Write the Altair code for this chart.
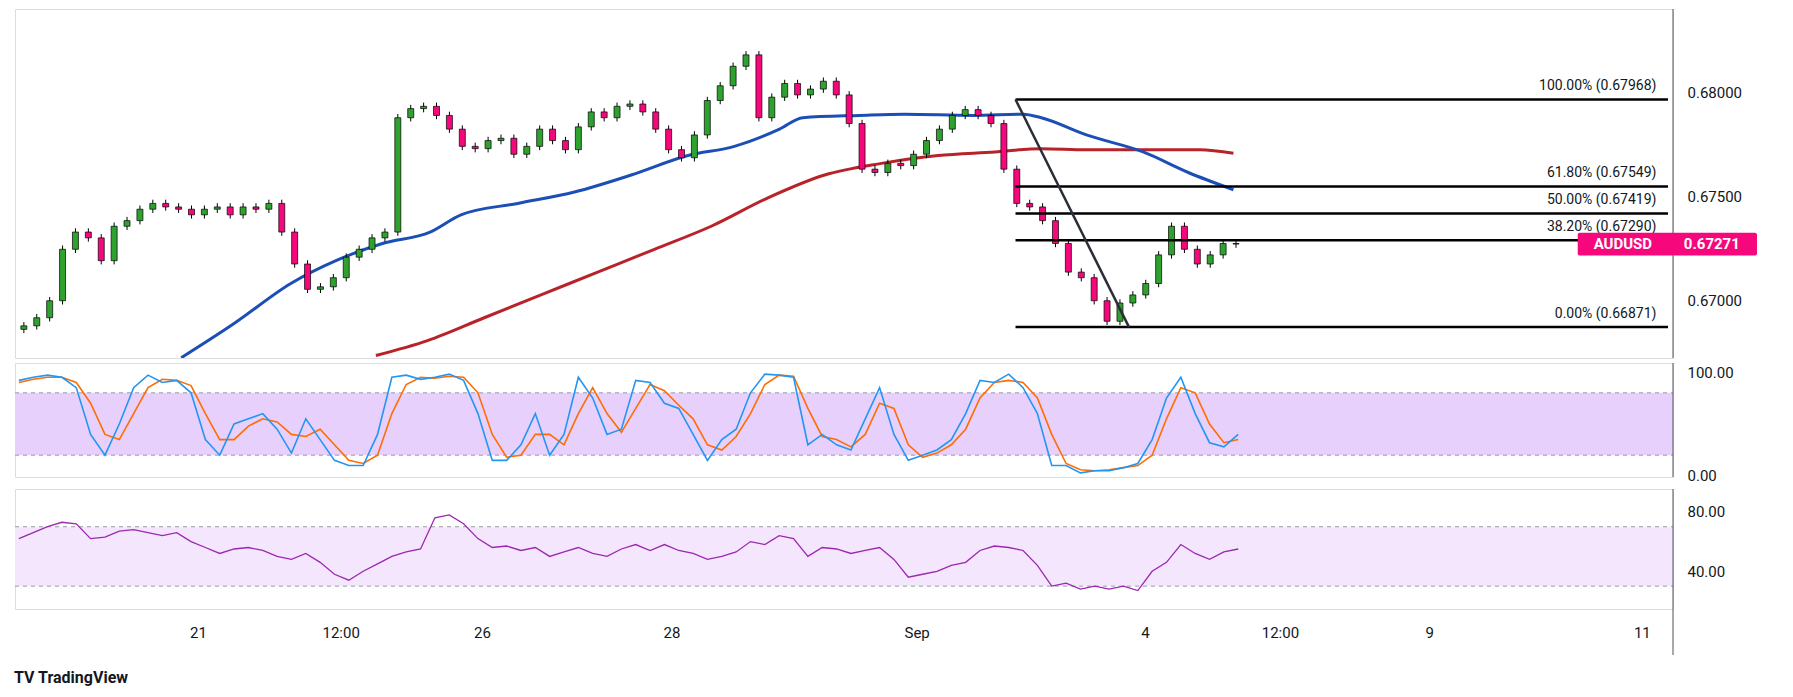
import altair as alt
import pandas as pd

closes = [.66877,.66916,.66998,.67246,.67329,.67301,.67191,.67357,.67384,.67439,
          .67467,.67450,.67439,.67412,.67439,.67450,.67412,.67450,.67439,.67467,
          .67329,.67175,.67053,.67065,.67109,.67208,.67246,.67301,.67329,.67880,
          .67924,.67935,.67891,.67825,.67742,.67731,.67770,.67781,.67704,.67742,
          .67825,.67770,.67726,.67836,.67908,.67880,.67935,.67946,.67908,.67825,
          .67726,.67687,.67797,.67963,.68034,.68128,.68183,.67880,.67979,.68045,
          .67990,.68018,.68056,.67990,.67852,.67632,.67616,.67660,.67649,.67704,
          .67770,.67825,.67891,.67919,.67891,.67852,.67632,.67467,.67450,.67384,
          .67274,.67136,.67109,.66998,.66899,.66987,.67026,.67081,.67219,.67357,
          .67246,.67175,.67219,.67274,.67271]
first_open = .66860

blue_x = [12.2,16.3,20.7,24.2,27.8,31.5,33.9,38.3,42.7,47.1,51.5,55.1,58.6,60.4,64.8,68.3,73.6,77.5,78.9,82.4,86.8,90.3,93.8]
blue_y = [.66723,.66888,.67081,.67191,.67274,.67329,.67412,.67467,.67522,.67604,.67698,.67742,.67825,.67880,.67891,.67897,.67891,.67897,.67880,.67797,.67715,.67616,.67533]
red_x = [27.3,31.3,35.7,40.1,44.5,48.9,53.3,57.7,62.1,66.5,70.9,75.3,78.9,82.4,86.8,91.2,93.8]
red_y = [.66734,.66806,.66916,.67026,.67136,.67246,.67357,.67494,.67604,.67660,.67698,.67715,.67731,.67726,.67726,.67726,.67709]

fib_levels = [0.67968, 0.67549, 0.67419, 0.67290, 0.66871]
fib_labels = ["100.00% (0.67968)", "61.80% (0.67549)", "50.00% (0.67419)", "38.20% (0.67290)", "0.00% (0.66871)"]

stoch_k = [92,95,97,95,85,40,20,50,85,97,90,92,80,35,20,50,55,60,45,22,
           55,35,15,10,10,40,95,97,93,95,98,92,60,15,15,30,60,20,40,95,
           75,40,45,92,90,70,65,40,15,35,45,80,98,97,95,30,40,30,25,55,
           85,40,15,20,25,35,60,92,90,98,85,60,10,10,3,5,5,8,12,35,
           75,95,60,32,28,40]
stoch_d = [90,93,95,95,90,70,40,35,60,85,93,92,87,60,35,35,48,55,52,40,
           38,45,30,15,12,20,60,88,95,94,96,95,80,40,18,20,40,40,30,60,
           85,60,42,65,88,82,68,55,30,25,38,60,88,97,96,65,38,35,28,40,
           70,65,30,18,22,30,45,75,90,92,90,75,40,12,6,5,6,8,10,20,
           55,85,80,50,32,35]
rsi = [62,66,70,73,72,62,63,67,68,66,64,66,60,56,52,55,56,54,50,48,
       52,46,38,34,40,45,50,53,55,76,78,72,62,56,57,54,56,50,53,56,
       52,50,55,58,54,58,54,52,48,50,53,60,58,64,62,50,56,55,52,54,
       56,48,36,38,40,44,46,54,57,56,54,44,30,32,28,30,28,30,27,40,
       46,58,52,48,53,55]

tick_vals = [13.8, 24.8, 35.7, 50.3, 69.2, 86.8, 97.2, 108.7, 125.1]
tick_text = ["21", "12:00", "26", "28", "Sep", "4", "12:00", "9", "11"]

W = 1658
XD = [-0.3, 127.5]
PD = [0.66722, 0.68404]
FONT = "Roboto"

opens = [first_open] + closes[:-1]
candles = pd.DataFrame({
    "i": list(range(len(closes))),
    "open": opens, "close": closes,
})
candles["hi"] = candles[["open", "close"]].max(axis=1) + 0.00018
candles["lo"] = candles[["open", "close"]].min(axis=1) - 0.00018
candles["up"] = candles["close"] >= candles["open"]

xs = alt.Scale(domain=XD, nice=False, zero=False)
xnone = alt.X("i:Q", scale=xs, axis=None)
ps = alt.Scale(domain=PD, nice=False, zero=False)
yax = alt.Axis(orient="right", values=[0.67, 0.675, 0.68], format=".5f", grid=False,
               domain=False, ticks=False, labelPadding=14, labelFontSize=15,
               labelColor="#131722", labelFont=FONT)

wick = alt.Chart(candles).mark_rule(color="#000", strokeWidth=1).encode(
    x=xnone, y=alt.Y("lo:Q", scale=ps, axis=yax, title=None), y2="hi:Q")
body = alt.Chart(candles).mark_bar(size=6, stroke="#000", strokeWidth=0.7).encode(
    x=xnone, y=alt.Y("open:Q", scale=ps), y2="close:Q",
    color=alt.condition("datum.up", alt.value("#2ea12e"), alt.value("#f7077c")))

blue = alt.Chart(pd.DataFrame({"i": blue_x, "v": blue_y})).mark_line(
    color="#1c4fb5", strokeWidth=3, clip=True, interpolate="monotone").encode(x=xnone, y=alt.Y("v:Q", scale=ps))
red = alt.Chart(pd.DataFrame({"i": red_x, "v": red_y})).mark_line(
    color="#b8232a", strokeWidth=3, clip=True, interpolate="monotone").encode(x=xnone, y=alt.Y("v:Q", scale=ps))

fib = pd.DataFrame({"v": fib_levels, "t": fib_labels, "x1": 76.9, "x2": 127.5, "xt": 126.6})
fib_rules = alt.Chart(fib).mark_rule(color="#000", strokeWidth=2.5).encode(
    x=alt.X("x1:Q", scale=xs, axis=None), x2="x2:Q", y=alt.Y("v:Q", scale=ps))
fib_text = alt.Chart(fib).mark_text(align="right", dy=-13, fontSize=14, font=FONT, color="#131722").encode(
    x=alt.X("xt:Q", scale=xs, axis=None), y=alt.Y("v:Q", scale=ps), text="t:N")
diag = alt.Chart(pd.DataFrame({"i": [76.9, 85.7], "v": [0.67968, 0.66871]})).mark_line(
    color="#2a2e39", strokeWidth=2.5).encode(x=xnone, y=alt.Y("v:Q", scale=ps))

tag = pd.DataFrame({"x1": [120.5], "x2": [134.4], "v1": [0.67216], "v2": [0.67326]})
tag_rect = alt.Chart(tag).mark_rect(color="#f7077c", cornerRadius=2, clip=False).encode(
    x=alt.X("x1:Q", scale=xs, axis=None), x2="x2:Q", y=alt.Y("v1:Q", scale=ps), y2="v2:Q")
tag_txt = alt.Chart(pd.DataFrame({"x": [124.0, 130.9], "v": [0.67271, 0.67271], "t": ["AUDUSD", "0.67271"]})).mark_text(
    color="white", fontSize=15, fontWeight="bold", font=FONT, clip=False).encode(
    x=alt.X("x:Q", scale=xs, axis=None), y=alt.Y("v:Q", scale=ps), text="t:N")

def vline(h):
    return alt.Chart(pd.DataFrame({"a": [0]})).mark_rule(color="#50535e", strokeWidth=1).encode(
        x=alt.value(W), y=alt.value(0), y2=alt.value(h))

PH, SH, RH = 349, 114, 120
price = alt.layer(red, blue, wick, body, fib_rules, diag, fib_text, vline(PH), tag_rect, tag_txt).properties(width=W, height=PH)

n = len(stoch_k)
osc = pd.DataFrame({"i": [k * 12.55 / 11.35 for k in range(n)], "k": stoch_k, "d": stoch_d, "r": rsi})
ss = alt.Scale(domain=[-1, 108.7], nice=False, zero=False)
sax = alt.Axis(orient="right", values=[0, 100], format=".2f", grid=False, domain=False, ticks=False,
               labelPadding=14, labelFontSize=15, labelColor="#131722", labelFont=FONT)
band = lambda lo, hi, sc, col: alt.Chart(pd.DataFrame({"a": [lo], "b": [hi]})).mark_rect(color=col).encode(
    x=alt.value(0), x2=alt.value(W), y=alt.Y("a:Q", scale=sc), y2="b:Q")
dash = lambda vals, sc: alt.Chart(pd.DataFrame({"a": vals})).mark_rule(color="#9a9ea8", strokeDash=[4, 4], strokeWidth=1).encode(
    x=alt.value(0), x2=alt.value(W), y=alt.Y("a:Q", scale=sc))
k_line = alt.Chart(osc).mark_line(color="#2196f3", strokeWidth=1.6).encode(
    x=xnone, y=alt.Y("k:Q", scale=ss, axis=sax, title=None))
d_line = alt.Chart(osc).mark_line(color="#ff6d00", strokeWidth=1.6).encode(x=xnone, y=alt.Y("d:Q", scale=ss))
stoch = alt.layer(band(20, 80, ss, "#e8d0fc"), dash([20, 80], ss), d_line, k_line, vline(SH)).properties(width=W, height=SH)

rs = alt.Scale(domain=[14.6, 95.4], nice=False, zero=False)
rax = alt.Axis(orient="right", values=[40, 80], format=".2f", grid=False, domain=False, ticks=False,
               labelPadding=14, labelFontSize=15, labelColor="#131722", labelFont=FONT)
xax = alt.Axis(values=tick_vals, labelExpr="{'13.8':'21','24.8':'12:00','35.7':'26','50.3':'28','69.2':'Sep','86.8':'4','97.2':'12:00','108.7':'9','125.1':'11'}[datum.value]",
               grid=False, domain=False, ticks=False, labelPadding=16, labelFontSize=15,
               labelColor="#131722", labelFont=FONT, labelFlush=False)
r_line = alt.Chart(osc).mark_line(color="#9c27b0", strokeWidth=1.3).encode(
    x=alt.X("i:Q", scale=xs, axis=xax, title=None), y=alt.Y("r:Q", scale=rs, axis=rax, title=None))
rsi_chart = alt.layer(band(30, 70, rs, "#f3e6fd"), dash([30, 70], rs), r_line, vline(RH + 46)).properties(width=W, height=RH)

chart = alt.vconcat(price, stoch, rsi_chart, spacing=3).properties(
    padding={"left": 6, "top": 0, "right": 0, "bottom": 4},
    title=alt.TitleParams("TV TradingView", orient="bottom", anchor="start", fontSize=16,
                          font=FONT, fontWeight="bold", color="#131722", offset=14),
).configure_view(stroke="#e0e3eb").configure(background="white")

chart.save("out.html", embed_options={"renderer": "svg", "actions": False})
